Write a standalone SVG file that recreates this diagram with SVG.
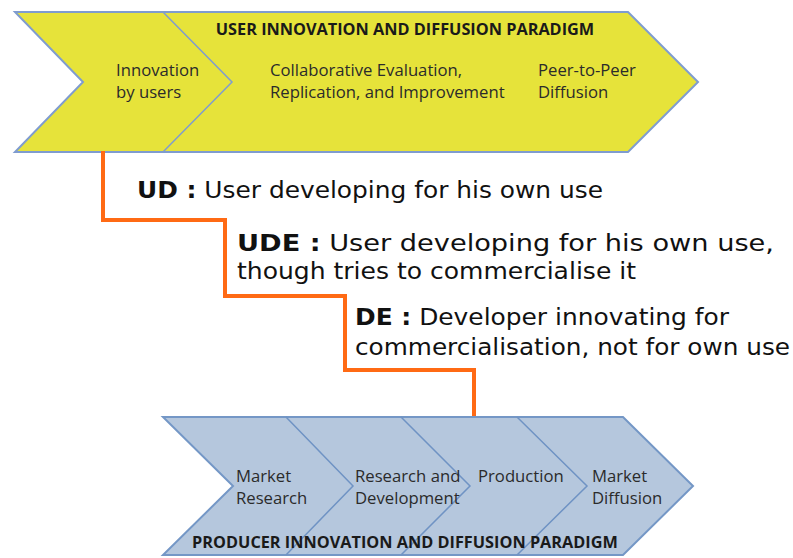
<svg xmlns="http://www.w3.org/2000/svg" width="793" height="558" viewBox="0 0 793 558">
<style>
.top{fill:#e6e33a;stroke:#7f9ccf;stroke-width:2;stroke-linejoin:miter}
.bot{fill:#b5c7dd;stroke:#7497c6;stroke-width:2;stroke-linejoin:miter}
.sep{fill:none;stroke-width:1.5}
.lbl{font-family:"Open Sans","Liberation Sans",sans-serif;font-size:16.7px;fill:#2b2b2b}
.ttl{font-family:"Open Sans","Liberation Sans",sans-serif;font-size:16.3px;font-weight:bold;fill:#1a1a1a}
.desc{font-family:"DejaVu Sans",sans-serif;font-size:23px;fill:#111}
.b{font-weight:bold}
.conn{fill:none;stroke:#ff6a14;stroke-width:4;stroke-linejoin:miter}
</style>
<rect width="793" height="558" fill="#ffffff"/>
<g id="user-paradigm">
<path class="top" d="M15,12 L628,12 L698,82 L628,152 L15,152 L83,82 Z"/>
<path class="sep" stroke="#7f9ccf" d="M163,12 L232,82 L163,152"/>
<text class="ttl" x="405" y="35" text-anchor="middle">USER INNOVATION AND DIFFUSION PARADIGM</text>
</g>
<g id="innovation-by-users">
<text class="lbl" x="116" y="76">Innovation</text>
<text class="lbl" x="116" y="98">by users</text>
</g>
<g id="collaborative">
<text class="lbl" x="270" y="76">Collaborative Evaluation,</text>
<text class="lbl" x="270" y="98">Replication, and Improvement</text>
</g>
<g id="peer-to-peer">
<text class="lbl" x="538" y="76">Peer-to-Peer</text>
<text class="lbl" x="538" y="98">Diffusion</text>
</g>
<g id="producer-paradigm">
<path class="bot" d="M163,417 L623,417 L693,486 L623,555 L163,555 L233,486 Z"/>
<path class="sep" stroke="#6f93c4" d="M286,417 L353,486 L286,555"/>
<path class="sep" stroke="#6f93c4" d="M401,417 L470,486 L401,555"/>
<path class="sep" stroke="#6f93c4" d="M517,417 L587,486 L517,555"/>
<text class="ttl" x="405" y="548" text-anchor="middle">PRODUCER INNOVATION AND DIFFUSION PARADIGM</text>
</g>
<g id="market-research">
<text class="lbl" x="236" y="482">Market</text>
<text class="lbl" x="236" y="504">Research</text>
</g>
<g id="research-development">
<text class="lbl" x="355" y="482">Research and</text>
<text class="lbl" x="355" y="504">Development</text>
</g>
<g id="production">
<text class="lbl" x="478" y="482">Production</text>
</g>
<g id="market-diffusion">
<text class="lbl" x="592" y="482">Market</text>
<text class="lbl" x="592" y="504">Diffusion</text>
</g>
<g id="connectors">
<path class="conn" d="M103,151 L103,220 L225,220 L225,296 L345,296 L345,370 L474,370 L474,416"/>
</g>
<g id="ud">
<text class="desc" x="137" y="198" textLength="466" lengthAdjust="spacingAndGlyphs"><tspan class="b">UD :</tspan> User developing for his own use</text>
</g>
<g id="ude">
<text class="desc" x="237" y="251" textLength="537" lengthAdjust="spacingAndGlyphs"><tspan class="b">UDE :</tspan> User developing for his own use,</text>
<text class="desc" x="237" y="279" textLength="399" lengthAdjust="spacingAndGlyphs">though tries to commercialise it</text>
</g>
<g id="de">
<text class="desc" x="355" y="325" textLength="374" lengthAdjust="spacingAndGlyphs"><tspan class="b">DE :</tspan> Developer innovating for</text>
<text class="desc" x="355" y="355" textLength="435" lengthAdjust="spacingAndGlyphs">commercialisation, not for own use</text>
</g>
</svg>
